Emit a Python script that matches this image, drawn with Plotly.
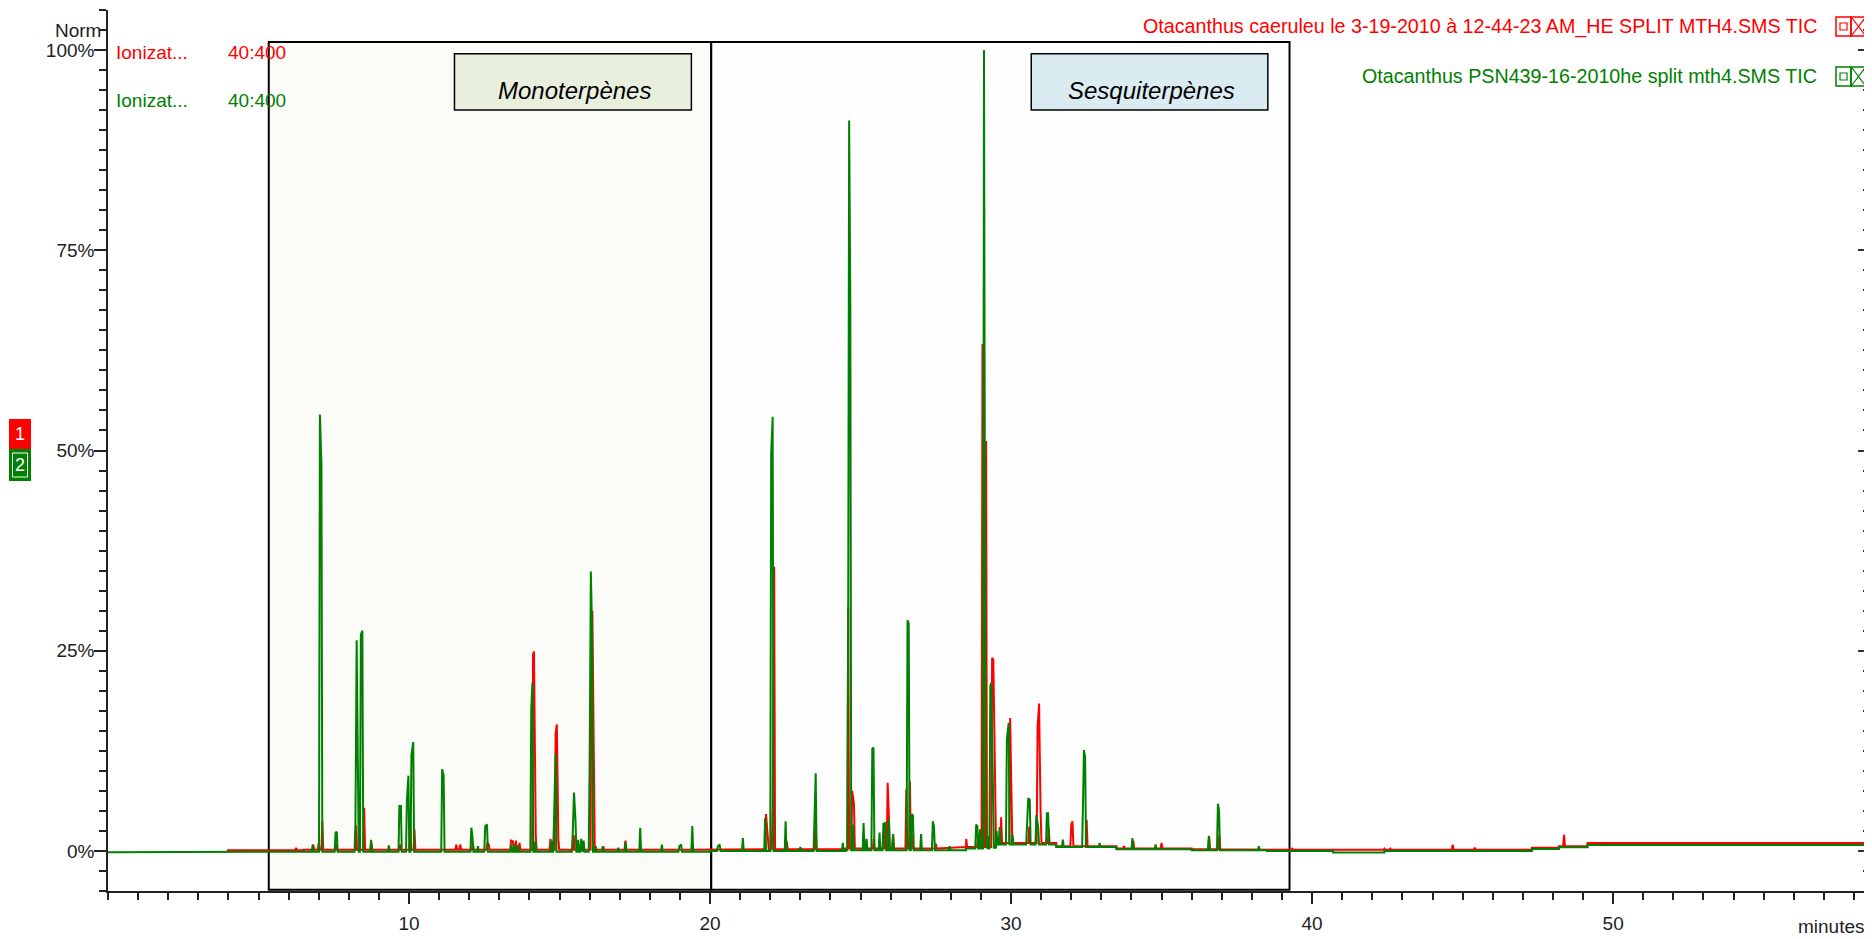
import numpy as np
import plotly.graph_objects as go

# ---------------- data ----------------
green_peak_t = [6.80, 7.04, 7.09, 7.56, 7.60, 8.22, 8.26, 8.30, 8.40, 8.45, 8.74, 9.33,
                9.68, 9.73, 9.93, 9.98, 10.08, 10.14, 11.10, 11.15, 12.07, 12.11, 12.29,
                12.53, 12.59, 13.40, 13.50, 13.62, 14.06, 14.10, 14.20, 14.73, 14.82, 14.87,
                15.44, 15.48, 15.53, 15.62, 15.72, 15.80, 16.00, 16.04, 16.08, 16.20, 16.44,
                16.95, 17.19, 17.68, 18.40, 18.98, 19.04, 19.41, 20.26, 20.32, 21.09, 21.83,
                22.03, 22.08, 22.51, 23.00, 23.47, 23.51, 24.41, 24.59, 24.62, 24.66, 24.74,
                25.10, 25.20, 25.39, 25.43, 25.63, 25.76, 25.82, 25.94, 26.08, 26.56, 26.60,
                26.70, 26.74, 27.01, 27.40, 27.44, 27.96, 28.84, 28.88, 28.97, 29.10, 29.15,
                29.22, 29.31, 29.34, 29.40, 29.52, 29.62, 29.86, 29.92, 30.05, 30.53, 30.57,
                30.62, 30.84, 30.90, 31.19, 31.23, 31.72, 32.39, 32.42, 32.46, 32.94, 34.03,
                34.80, 36.57, 36.87, 36.91, 38.23]
green_peak_h = [0.8, 54.5, 48.3, 2.3, 2.4, 3.3, 26.3, 7.2, 27.0, 27.5, 1.4, 0.7,
                5.6, 5.6, 6.4, 9.4, 12.0, 13.6, 10.2, 9.4, 2.9, 1.6, 0.6,
                3.1, 3.3, 0.8, 0.9, 0.7, 17.7, 21.0, 1.2, 1.3, 5.4, 12.1,
                2.3, 7.3, 3.8, 1.4, 1.5, 1.3, 10.8, 34.9, 27.5, 0.6, 0.6,
                0.4, 1.1, 2.9, 0.8, 0.6, 0.8, 3.1, 0.6, 0.8, 1.6, 4.1,
                49.6, 54.2, 3.7, 0.5, 6.4, 9.7, 1.0, 30.6, 91.2, 68.1, 3.3,
                3.5, 1.5, 12.8, 12.9, 2.3, 3.4, 3.5, 4.0, 2.1, 28.8, 28.4,
                4.6, 4.4, 2.1, 3.7, 3.0, 0.6, 3.3, 3.1, 2.7, 100.0, 5.8,
                1.8, 20.6, 21.0, 5.8, 2.5, 3.0, 13.9, 16.0, 2.0, 4.5, 6.6,
                6.4, 4.5, 3.0, 4.7, 4.7, 1.4, 6.0, 12.6, 11.7, 1.0, 1.6,
                0.8, 1.9, 5.9, 5.0, 0.6]

red_peak_t = [6.25, 6.82, 7.00, 7.12, 7.58, 8.24, 8.51, 8.75, 9.70, 10.04, 10.18, 11.57,
              11.70, 12.12, 12.60, 12.65, 13.39, 13.45, 13.55, 13.67, 14.12, 14.15, 14.21,
              14.70, 14.87, 14.91, 14.96, 15.47, 15.60, 16.06, 16.09, 16.14, 16.45, 17.19,
              19.41, 21.86, 21.92, 22.08, 22.13, 22.55, 23.51, 24.59, 24.72, 24.78, 25.12,
              25.44, 25.80, 25.90, 25.94, 26.08, 26.52, 26.64, 26.72, 27.50, 28.51, 28.90,
              29.05, 29.17, 29.37, 29.41, 29.46, 29.67, 29.97, 30.01, 30.60, 30.88, 30.93,
              30.98, 31.25, 32.00, 32.04, 32.51, 33.75, 34.06, 35.00, 35.60, 36.58, 36.92,
              39.34, 42.40, 42.60, 44.67, 45.40, 48.37, 48.85]
red_peak_h = [0.4, 0.8, 1.0, 3.7, 0.9, 3.2, 5.4, 1.0, 0.8, 4.1, 2.7, 0.8,
              0.8, 1.0, 1.0, 0.8, 1.3, 1.2, 1.3, 1.0, 24.5, 24.9, 1.9,
              1.5, 14.6, 15.8, 1.5, 2.0, 1.2, 27.0, 30.0, 5.6, 0.6, 1.3,
              0.8, 4.6, 1.5, 5.4, 35.5, 1.2, 2.9, 30.5, 7.5, 5.9, 1.5,
              1.5, 3.5, 8.5, 4.4, 2.1, 7.7, 8.7, 2.0, 0.9, 1.5, 2.0,
              63.3, 51.2, 24.1, 23.9, 6.7, 4.2, 16.6, 9.6, 3.0, 15.4, 18.4,
              5.0, 2.9, 3.3, 3.7, 3.9, 0.6, 1.3, 1.0, 0.3, 1.8, 2.0,
              0.3, 0.3, 0.3, 0.8, 0.4, 2.0, 0.5]

green_base_t = [0.0, 6.5, 20.0, 24.5, 28.5, 29.5, 31.5, 33.5, 36.0, 38.5, 40.7, 42.4, 47.3, 48.2, 49.15, 58.5]
green_base_v = [-0.15, -0.1, 0.0, 0.1, 0.3, 0.8, 0.5, 0.2, 0.1, 0.0, -0.2, 0.0, 0.25, 0.45, 0.75, 0.75]
red_base_t = [3.95, 6.5, 20.0, 24.5, 28.5, 29.5, 31.5, 33.5, 36.0, 38.5, 47.3, 48.2, 49.15, 58.5]
red_base_v = [0.1, 0.15, 0.2, 0.3, 0.5, 1.0, 0.6, 0.3, 0.2, 0.15, 0.4, 0.6, 1.0, 1.0]

x_tick_vals = [10, 20, 30, 40, 50]
y_tick_vals = [0, 25, 50, 75, 100]
y_tick_text = ["0%", "25%", "50%", "75%", "100%"]

region_names = ["Monoterpènes", "Sesquiterpènes"]
region_x0 = [5.34, 20.04]
region_x1 = [20.04, 39.25]
label_x0 = [11.51, 30.67]
label_x1 = [19.38, 38.53]

series_names = ["Otacanthus caeruleu le 3-19-2010 à 12-44-23 AM_HE SPLIT MTH4.SMS TIC",
                "Otacanthus PSN439-16-2010he split mth4.SMS TIC"]

RED = "#ff0000"
GREEN = "#008000"
FONT = "Liberation Sans"
INK = "#222222"

# ---------------- build polylines ----------------
def build(base_t, base_v, peak_t, peak_h, half=0.03, join=0.07):
    base_t = np.asarray(base_t, float)
    base_v = np.asarray(base_v, float)

    def level(t):
        i = int(np.searchsorted(base_t, t, side="right")) - 1
        return base_v[max(i, 0)]

    pts = []
    for i in range(len(base_t)):
        if i > 0:
            pts.append((base_t[i], 0, base_v[i - 1]))
        pts.append((base_t[i], 1, base_v[i]))
    order = np.argsort(peak_t)
    pt = np.asarray(peak_t, float)[order]
    ph = np.asarray(peak_h, float)[order]
    for k in range(len(pt)):
        t, h = pt[k], ph[k]
        b = level(t)
        if k == 0 or t - pt[k - 1] > join:
            pts.append((t - half, 0, b))
        pts.append((t, 0, max(h, b)))
        if k == len(pt) - 1 or pt[k + 1] - t > join:
            pts.append((t + half, 2, b))
    pts.sort(key=lambda p: (p[0], p[1]))
    return [p[0] for p in pts], [p[2] for p in pts]

rx, ry = build(red_base_t, red_base_v, red_peak_t, red_peak_h)
gx, gy = build(green_base_t, green_base_v, green_peak_t, green_peak_h)

fig = go.Figure()
fig.add_trace(go.Scatter(x=rx, y=ry, mode="lines", line=dict(color=RED, width=2),
                         name=series_names[0], hoverinfo="skip"))
fig.add_trace(go.Scatter(x=gx, y=gy, mode="lines", line=dict(color=GREEN, width=2),
                         name=series_names[1], hoverinfo="skip"))
fig.add_trace(go.Scatter(x=[0], y=[0], yaxis="y2", mode="markers", marker=dict(opacity=0),
                         showlegend=False, hoverinfo="skip"))

# ---------------- geometry (page has an 8px body margin) ----------------
OFF = 8
W, H = 1872 - OFF, 939 - OFF
L, R, T, B = 108, 1869, 10, 891   # plot area in page pixels

def px(x):
    return (x - L) / (R - L)

def py(y):
    return (B - y) / (B - T)

shapes = []
annotations = []

# region boxes
fills = ["#fbfbf8", "#fefefe"]
for i in range(2):
    shapes.append(dict(type="rect", xref="x", yref="y", x0=region_x0[i], x1=region_x1[i],
                       y0=-4.85, y1=101.0, line=dict(color="black", width=2),
                       fillcolor=fills[i], layer="below"))
label_fills = ["#e9efdd", "#daecf2"]
for i in range(2):
    shapes.append(dict(type="rect", xref="x", yref="y", x0=label_x0[i], x1=label_x1[i],
                       y0=92.5, y1=99.55, line=dict(color="black", width=1.5),
                       fillcolor=label_fills[i], layer="above"))
    annotations.append(dict(x=(label_x0[i] + label_x1[i]) / 2 + 0.05, y=95.0, xref="x", yref="y",
                            text="<i>" + region_names[i] + "</i>", showarrow=False,
                            font=dict(family=FONT, size=24, color="black"),
                            xanchor="center", yanchor="middle"))

# top-right legend entries with icons
for i, (col, yc, y0, y1) in enumerate([(RED, 26, 17, 36), (GREEN, 76, 67, 86)]):
    annotations.append(dict(x=px(1819), y=py(yc), xref="paper", yref="paper",
                            text=series_names[i], showarrow=False, xanchor="right",
                            yanchor="middle", font=dict(family=FONT, size=19.7, color=col)))
    shapes.append(dict(type="rect", xref="paper", yref="paper", x0=px(1836), x1=px(1851),
                       y0=py(y1), y1=py(y0), line=dict(color=col, width=1.5)))
    shapes.append(dict(type="rect", xref="paper", yref="paper", x0=px(1851), x1=px(1866),
                       y0=py(y1), y1=py(y0), line=dict(color=col, width=1.5)))
    shapes.append(dict(type="rect", xref="paper", yref="paper", x0=px(1840), x1=px(1847),
                       y0=py(y1 - 6), y1=py(y0 + 6), line=dict(color=col, width=1.2)))
    shapes.append(dict(type="line", xref="paper", yref="paper", x0=px(1852), x1=px(1865),
                       y0=py(y0 + 1), y1=py(y1 - 1), line=dict(color=col, width=1.2)))
    shapes.append(dict(type="line", xref="paper", yref="paper", x0=px(1852), x1=px(1865),
                       y0=py(y1 - 1), y1=py(y0 + 1), line=dict(color=col, width=1.2)))

# top-left ionization labels
for col, yc in [(RED, 52.5), (GREEN, 100.5)]:
    annotations.append(dict(x=px(114), y=py(yc), xref="paper", yref="paper", text="Ionizat...",
                            showarrow=False, xanchor="left", yanchor="middle",
                            font=dict(family=FONT, size=19, color=col)))
    annotations.append(dict(x=px(226), y=py(yc), xref="paper", yref="paper", text="40:400",
                            showarrow=False, xanchor="left", yanchor="middle",
                            font=dict(family=FONT, size=19, color=col)))

# trace badges on the left
shapes.append(dict(type="rect", xref="paper", yref="paper", x0=px(9), x1=px(31),
                   y0=py(449), y1=py(419), line=dict(width=0), fillcolor=RED))
shapes.append(dict(type="rect", xref="paper", yref="paper", x0=px(9), x1=px(31),
                   y0=py(481), y1=py(449), line=dict(width=0), fillcolor=GREEN))
shapes.append(dict(type="rect", xref="paper", yref="paper", x0=px(12.5), x1=px(27.5),
                   y0=py(477), y1=py(453), line=dict(width=1, color="white")))
annotations.append(dict(x=px(20), y=py(434), xref="paper", yref="paper", text="1",
                        showarrow=False, xanchor="center", yanchor="middle",
                        font=dict(family=FONT, size=18, color="white")))
annotations.append(dict(x=px(20), y=py(465), xref="paper", yref="paper", text="2",
                        showarrow=False, xanchor="center", yanchor="middle",
                        font=dict(family=FONT, size=18, color="white")))

# axis extra labels
annotations.append(dict(x=px(103), y=102.5, xref="paper", yref="y", text="Norm",
                        showarrow=False, xanchor="right", yanchor="middle",
                        font=dict(family=FONT, size=19, color=INK)))
annotations.append(dict(x=px(1867), y=py(926), xref="paper", yref="paper", text="minutes",
                        showarrow=False, xanchor="right", yanchor="middle",
                        font=dict(family=FONT, size=19, color=INK)))

fig.update_layout(
    width=W, height=H,
    margin=dict(l=L - OFF, r=1872 - R, t=T - OFF, b=939 - B),
    paper_bgcolor="white", plot_bgcolor="white",
    showlegend=False,
    font=dict(family=FONT, size=19, color=INK),
    xaxis=dict(range=[0, 58.5], tickvals=x_tick_vals, ticks="outside", ticklen=11,
               tickcolor=INK, tickwidth=1.5, showline=True, linecolor=INK,
               linewidth=1.5, showgrid=False, zeroline=False, ticklabelstandoff=3,
               tickfont=dict(family=FONT, size=19, color=INK),
               minor=dict(dtick=1, tick0=0, ticks="outside", ticklen=7, tickcolor=INK,
                          tickwidth=1.5, showgrid=False)),
    yaxis=dict(range=[-5, 105], tickvals=y_tick_vals, ticktext=y_tick_text, ticks="outside",
               ticklen=12, tickcolor=INK, tickwidth=1.5, showline=True,
               linecolor=INK, linewidth=1.5, showgrid=False, zeroline=False,
               ticklabelstandoff=-4,
               tickfont=dict(family=FONT, size=19, color=INK),
               minor=dict(dtick=2.5, tick0=0, ticks="outside", ticklen=7, tickcolor=INK,
                          tickwidth=1.5, showgrid=False)),
    yaxis2=dict(range=[-5, 105], overlaying="y", side="right", tickvals=y_tick_vals,
                showticklabels=False, ticks="inside", ticklen=11, tickcolor="#333333",
                tickwidth=1.5, showline=True, linecolor="#aaaaaa", linewidth=1,
                showgrid=False, zeroline=False,
                minor=dict(dtick=2.5, tick0=0, ticks="inside", ticklen=6, tickcolor="#333333",
                           tickwidth=1.5, showgrid=False)),
    shapes=shapes,
    annotations=annotations,
)

fig.write_html("out.html")
